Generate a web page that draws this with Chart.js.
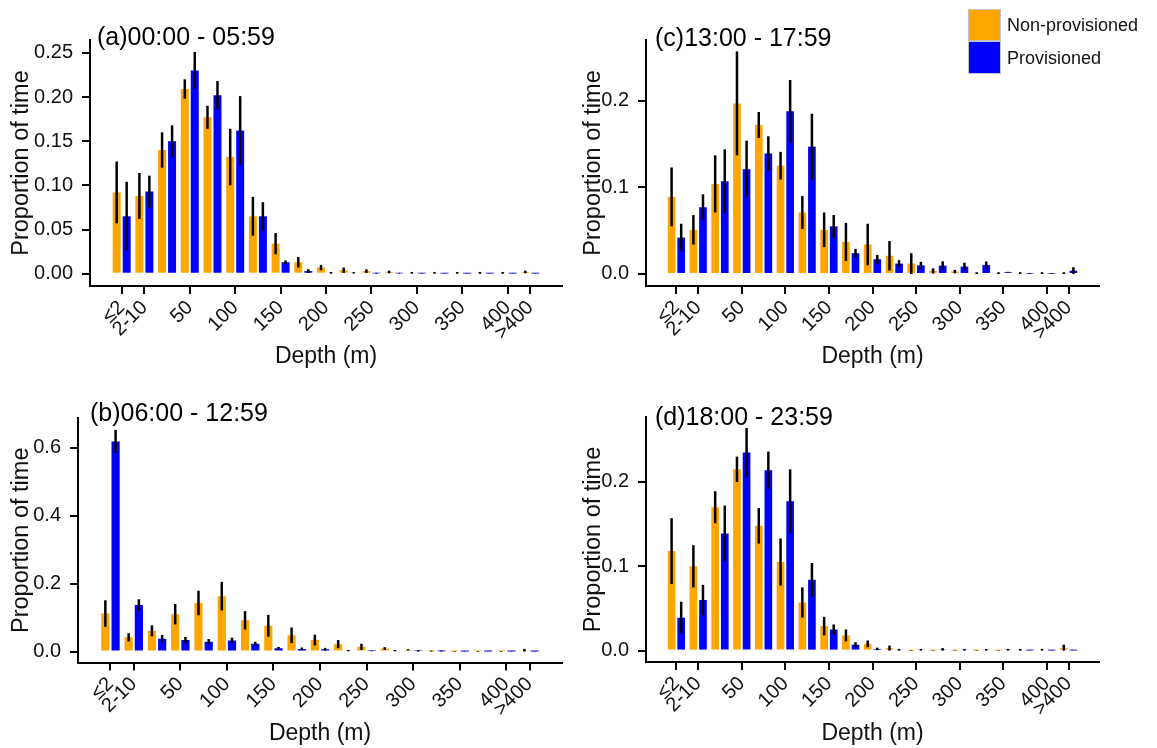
<!DOCTYPE html>
<html>
<head>
<meta charset="utf-8">
<script src="https://cdn.jsdelivr.net/npm/chart.js@4.4.0/dist/chart.umd.min.js"></script>
<style>
body { margin: 0; background: #fff; font-family: "Liberation Sans", Arial, sans-serif; }
#wrap { position: relative; width: 1157px; height: 748px; overflow: hidden; }
canvas { position: absolute; }
.key { position: absolute; left: 968px; width: 31px; border: 1.5px solid #c4c4c4; }
.keytext { position: absolute; left: 1007px; font-size: 18px; color: #111; line-height: 20px; }
</style>
</head>
<body>
<div id="wrap">
  <canvas id="panelA" width="578" height="374" style="left:0;top:0"></canvas>
  <canvas id="panelC" width="579" height="374" style="left:578px;top:0"></canvas>
  <canvas id="panelB" width="578" height="374" style="left:0;top:374px"></canvas>
  <canvas id="panelD" width="579" height="374" style="left:578px;top:374px"></canvas>
  <div class="key" style="top:9px;height:30px;background:#FFA500"></div>
  <div class="key" style="top:41px;height:31px;background:#0000FF"></div>
  <div class="keytext" style="top:15px">Non-provisioned</div>
  <div class="keytext" style="top:48px">Provisioned</div>
</div>
<script>
// depth bins (25 m steps after 10 m), only some get a label on the axis
const depthBins = ['≤2', '2-10', '10-25', '25-50', '50-75', '75-100', '100-125', '125-150', '150-175',
    '175-200', '200-225', '225-250', '250-275', '275-300', '300-325', '325-350', '350-375', '375-400', '>400'];
const tickIdx = [0, 1, 3, 5, 7, 9, 11, 13, 15, 17, 18];
const tickText = ['≤2', '2-10', '50', '100', '150', '200', '250', '300', '350', '400', '>400'];

// (a) 00:00 - 05:59
const npMeanA = [0.092, 0.088, 0.140, 0.209, 0.177, 0.132, 0.065, 0.034, 0.013, 0.007, 0.004, 0.003, 0.002, 0.001, 0.001, 0.001, 0.001, 0.001, 0.002];
const npErrA  = [0.035, 0.026, 0.020, 0.011, 0.013, 0.032, 0.022, 0.012, 0.006, 0.003, 0.003, 0.002, 0.0015, 0.001, 0.001, 0.001, 0.001, 0.001, 0.0015];
const pMeanA  = [0.065, 0.093, 0.150, 0.230, 0.202, 0.162, 0.065, 0.013, 0.003, 0.001, 0.001, 0.0005, 0.0005, 0.0003, 0.0002, 0.0002, 0.0002, 0.0002, 0.0002];
const pErrA   = [0.039, 0.018, 0.018, 0.021, 0.016, 0.039, 0.016, 0.002, 0.002, 0.001, 0.0008, 0.0005, 0.0004, 0.0003, 0.0002, 0.0002, 0.0002, 0.0002, 0.0002];

// (b) 06:00 - 12:59
const npMeanB = [0.112, 0.042, 0.061, 0.110, 0.143, 0.163, 0.092, 0.076, 0.048, 0.034, 0.022, 0.014, 0.009, 0.005, 0.001, 0.001, 0.001, 0.001, 0.004];
const npErrB  = [0.039, 0.012, 0.016, 0.030, 0.036, 0.042, 0.027, 0.032, 0.023, 0.016, 0.012, 0.009, 0.004, 0.002, 0.002, 0.001, 0.001, 0.001, 0.004];
const pMeanB  = [0.618, 0.137, 0.038, 0.034, 0.029, 0.033, 0.023, 0.010, 0.008, 0.007, 0.003, 0.002, 0.003, 0.002, 0.001, 0.0005, 0.0005, 0.0005, 0.0005];
const pErrB   = [0.034, 0.017, 0.011, 0.009, 0.008, 0.008, 0.006, 0.004, 0.004, 0.004, 0.002, 0.001, 0.002, 0.002, 0.002, 0.0005, 0.0005, 0.0005, 0.0005];

// (c) 13:00 - 17:59
const npMeanC = [0.089, 0.051, 0.104, 0.197, 0.172, 0.125, 0.071, 0.051, 0.037, 0.034, 0.021, 0.012, 0.0035, 0.0027, 0.001, 0.001, 0.001, 0.001, 0.001];
const npErrC  = [0.034, 0.017, 0.033, 0.060, 0.015, 0.016, 0.019, 0.020, 0.022, 0.024, 0.017, 0.012, 0.003, 0.002, 0.001, 0.001, 0.001, 0.001, 0.001];
const pMeanC  = [0.042, 0.077, 0.107, 0.121, 0.139, 0.188, 0.147, 0.055, 0.024, 0.017, 0.012, 0.010, 0.0096, 0.0085, 0.0104, 0.002, 0.0005, 0.0005, 0.0038];
const pErrC   = [0.016, 0.015, 0.037, 0.033, 0.020, 0.036, 0.038, 0.013, 0.005, 0.005, 0.004, 0.004, 0.005, 0.0045, 0.004, 0.0005, 0.0005, 0.0005, 0.004];

// (d) 18:00 - 23:59
const npMeanD = [0.118, 0.100, 0.170, 0.215, 0.148, 0.105, 0.057, 0.029, 0.018, 0.008, 0.003, 0.0003, 0.0003, 0.0003, 0.0003, 0.0003, 0.001, 0.001, 0.003];
const npErrD  = [0.039, 0.025, 0.019, 0.015, 0.021, 0.028, 0.018, 0.011, 0.007, 0.004, 0.003, 0.0003, 0.0003, 0.0003, 0.0003, 0.0003, 0.001, 0.001, 0.004];
const pMeanD  = [0.039, 0.060, 0.139, 0.235, 0.214, 0.177, 0.084, 0.025, 0.007, 0.002, 0.001, 0.001, 0.0015, 0.001, 0.001, 0.001, 0.0002, 0.0002, 0.0002];
const pErrD   = [0.019, 0.018, 0.033, 0.029, 0.022, 0.038, 0.020, 0.006, 0.003, 0.0015, 0.001, 0.001, 0.0015, 0.001, 0.001, 0.001, 0.0002, 0.0002, 0.0002];

const yTicksA = [0, 0.05, 0.10, 0.15, 0.20, 0.25];
const yTicksB = [0, 0.2, 0.4, 0.6];
const yTicksC = [0, 0.1, 0.2];
const yTicksD = [0, 0.1, 0.2];

const FONT = '"Liberation Sans", Arial, sans-serif';

/* draws the black error bar on every bar */
const errorBars = {
    id: 'errorBars',
    afterDatasetsDraw(chart) {
        let ctx = chart.ctx;
        let yScale = chart.scales.y;
        ctx.save();
        ctx.strokeStyle = '#000';
        ctx.lineWidth = 2.5;
        chart.data.datasets.forEach((ds, di) => {
            let meta = chart.getDatasetMeta(di);
            meta.data.forEach((bar, i) => {
                let m = ds.data[i].y;
                let e = ds.err[i];
                let top = yScale.getPixelForValue(m + e);
                let bot = yScale.getPixelForValue(Math.max(m - e, 0));
                ctx.beginPath();
                ctx.moveTo(bar.x, top);
                ctx.lineTo(bar.x, bot);
                ctx.stroke();
            });
        });
        ctx.restore();
    }
};

/* panel label written inside the top-left of the plot */
const panelTitle = {
    id: 'panelTitle',
    afterDraw(chart, args, opts) {
        let ctx = chart.ctx;
        ctx.save();
        ctx.font = '25px ' + FONT;
        ctx.fillStyle = '#000';
        ctx.textBaseline = 'middle';
        ctx.fillText(opts.text, opts.x, chart.chartArea.top + opts.dy);
        ctx.restore();
    }
};

function points(vals) {
    return vals.map((v, i) => ({ x: i, y: v }));
}

function makePanel(id, p) {
    return new Chart(document.getElementById(id), {
        type: 'bar',
        data: {
            datasets: [{
                label: 'Non-provisioned',
                data: points(p.npMean),
                err: p.npErr,
                backgroundColor: '#FFA500'
            }, {
                label: 'Provisioned',
                data: points(p.pMean),
                err: p.pErr,
                backgroundColor: '#0000FF'
            }]
        },
        options: {
            responsive: false,
            animation: false,
            categoryPercentage: 0.88,
            barPercentage: 0.8,
            layout: { padding: { left: 0, top: p.top, right: p.right, bottom: 0 } },
            plugins: {
                legend: { display: false },
                tooltip: { enabled: false },
                panelTitle: { text: p.title, x: p.titleX, dy: p.titleDy }
            },
            scales: {
                x: {
                    type: 'linear',
                    min: -1.395,
                    max: depthBins.length - 1 + 1.395,
                    offset: false,
                    afterBuildTicks: s => { s.ticks = tickIdx.map(v => ({ value: v })); },
                    afterFit: s => { s.height = p.xH; },
                    grid: { display: true, offset: false, drawOnChartArea: false, drawTicks: true, tickLength: 8, color: '#000', lineWidth: 2 },
                    border: { display: true, color: '#000', width: 2 },
                    ticks: {
                        autoSkip: false,
                        minRotation: 45,
                        maxRotation: 45,
                        padding: 2,
                        color: '#111',
                        font: { family: FONT, size: 20 },
                        callback: (v, i) => tickText[i]
                    },
                    title: {
                        display: true,
                        text: 'Depth (m)',
                        color: '#111',
                        font: { family: FONT, size: 23, lineHeight: 1 },
                        padding: { top: 0, bottom: p.xTitlePad }
                    }
                },
                y: {
                    min: p.yMin,
                    max: p.yMax,
                    afterBuildTicks: s => { s.ticks = p.yTicks.map(v => ({ value: v })); },
                    afterFit: s => { s.width = p.yW; },
                    grid: { display: true, drawOnChartArea: false, drawTicks: true, tickLength: 8, color: '#000', lineWidth: 2 },
                    border: { display: true, color: '#000', width: 2 },
                    ticks: {
                        padding: 9,
                        color: '#111',
                        font: { family: FONT, size: 20 },
                        callback: v => v.toFixed(p.digits)
                    },
                    title: {
                        display: true,
                        text: 'Proportion of time',
                        color: '#111',
                        font: { family: FONT, size: 23.5, lineHeight: 1 },
                        padding: { top: p.yTitlePad, bottom: 0 }
                    }
                }
            }
        },
        plugins: [errorBars, panelTitle]
    });
}

makePanel('panelA', {
    npMean: npMeanA, npErr: npErrA, pMean: pMeanA, pErr: pErrA,
    yTicks: yTicksA, digits: 2, yMin: -0.0139, yMax: 0.2645,
    title: '(a)00:00 - 05:59', titleX: 97, titleDy: -2,
    top: 40, right: 16, xH: 88, yW: 90, xTitlePad: 6, yTitlePad: 10
});
makePanel('panelC', {
    npMean: npMeanC, npErr: npErrC, pMean: pMeanC, pErr: pErrC,
    yTicks: yTicksC, digits: 1, yMin: -0.0139, yMax: 0.2702,
    title: '(c)13:00 - 17:59', titleX: 77, titleDy: -1,
    top: 40, right: 58, xH: 88, yW: 68, xTitlePad: 6, yTitlePad: 4
});
makePanel('panelB', {
    npMean: npMeanB, npErr: npErrB, pMean: pMeanB, pErr: pErrB,
    yTicks: yTicksB, digits: 1, yMin: -0.032, yMax: 0.687,
    title: '(b)06:00 - 12:59', titleX: 90, titleDy: -4,
    top: 44, right: 16, xH: 85.5, yW: 78, xTitlePad: 3, yTitlePad: 10
});
makePanel('panelD', {
    npMean: npMeanD, npErr: npErrD, pMean: pMeanD, pErr: pErrD,
    yTicks: yTicksD, digits: 1, yMin: -0.0135, yMax: 0.277,
    title: '(d)18:00 - 23:59', titleX: 77, titleDy: 1,
    top: 43, right: 58, xH: 86, yW: 68, xTitlePad: 3, yTitlePad: 4
});
</script>
</body>
</html>
